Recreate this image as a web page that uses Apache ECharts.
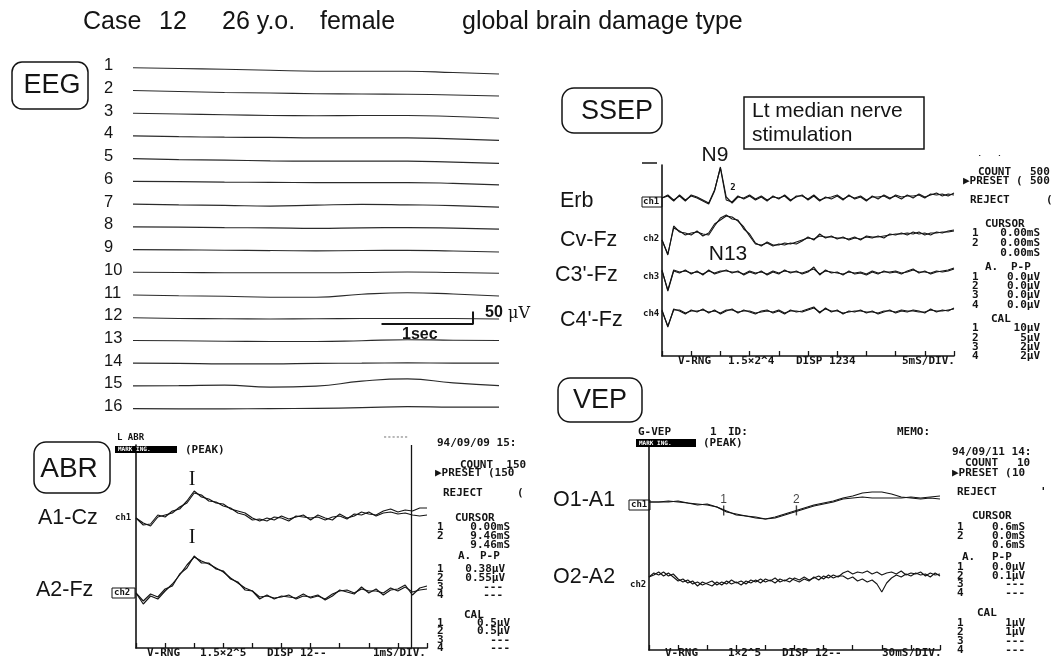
<!DOCTYPE html>
<html><head><meta charset="utf-8">
<script src="https://cdn.jsdelivr.net/npm/echarts@6/dist/echarts.min.js"></script>
<style>html,body{margin:0;padding:0;background:#fff}#c{width:1052px;height:656px}</style>
</head><body><div id="c"></div>
<script>
// ===================== DATA =====================
// EEG: 16 channels, amplitude (uV) relative to each channel's start, sampled every 0.5 s
const eegChannels = ['1','2','3','4','5','6','7','8','9','10','11','12','13','14','15','16'];
const eegTimes = [0,0.5,1,1.5,2,2.5,3,3.5,4];
const eegTraces = [
  [0,-3,-6,-10,-14,-14,-14,-19,-25],
  [0,-4,-8,-10,-13,-14,-15,-18,-22],
  [0,-3,-6,-9,-10,-9,-9,-13,-20],
  [0,-3,-5,-6,-8,-8,-8,-12,-18],
  [0,-4,-6,-9,-10,-10,-10,-14,-19],
  [0,-1,-3,-4,-5,-5,-5,-8,-14],
  [0,-3,-5,-8,-4,-1,-3,-6,-12],
  [0,-1,-3,-4,-6,-4,-3,-5,-9],
  [0,-1,-3,-4,-5,-4,-3,-6,-10],
  [0,-1,-2,-2,-2,-1,1,-1,-4],
  [0,-3,-5,-9,-9,3,9,4,-4],
  [0,-3,-4,-5,-4,-3,-3,-3,-5],
  [0,-1,-3,-4,-4,-1,3,1,0],
  [0,-1,-3,-3,-1,0,1,0,0],
  [0,1,3,-5,-1,19,28,12,1],
  [0,-1,-1,0,1,4,8,6,6]
];
const eegScaleBar = [1, 50]; // 1 sec, 50 uV

// ABR (ms, amplitude a.u.), two averaged runs per channel
const abrChannels = ['A1-Cz','A2-Fz'];
const abrTime = [0,0.25,0.5,0.75,1,1.25,1.5,1.75,2,2.25,2.5,2.75,3,3.25,3.5,3.75,4,4.25,4.5,4.75,5,5.25,5.5,5.75,6,6.25,6.5,6.75,7,7.25,7.5,7.75,8,8.25,8.5,8.75,9,9.25,9.5,9.75,10];
const abrA1CzRun1 = [0,-7,-6,3,1,7,9,17,27,21,19,15,14,9,7,5,0,-3,0,-2,2,-1,1,3,-2,3,0,-2,4,0,2,6,4,3,7,9,6,8,7,10,10];
const abrA1CzRun2 = [0,-5,-8,1,3,5,11,15,25,23,17,16,12,10,5,3,-2,-1,-3,1,0,-3,2,1,0,1,-2,1,2,-1,4,3,6,2,5,6,4,5,3,2,3];
const abrA2FzRun1 = [0,-11,-3,-6,2,9,18,28,36,32,29,25,21,15,10,5,2,-4,-3,-5,-4,-2,-6,-3,-4,-2,-7,-3,3,1,-1,6,0,4,-2,3,4,8,-2,5,7];
const abrA2FzRun2 = [0,-8,-1,-4,4,7,19,25,37,30,30,24,22,14,11,3,2,-6,-2,-6,-3,-4,-5,-1,-5,-3,-6,-1,2,3,0,4,2,2,0,5,2,6,1,3,4];
const abrCursorMs = 9.46;
const abrPeakLabels = ['I','I'];

// SSEP (ms, amplitude a.u.)
const ssepChannels = ['Erb','Cv-Fz',"C3'-Fz","C4'-Fz"];
const ssepTime = [0,1,2,3,4,5,6,7,8,9,10,11,12,13,14,15,16,17,18,19,20,21,22,23,24,25,26,27,28,29,30,31,32,33,34,35,36,37,38,39,40,41,42,43,44,45,46,47,48,49,50];
const ssepErbRun1 = [0,3,-2,2,-3,3,1,-2,-5,8,30,-2,-4,2,-1,2,-2,1,-3,2,-1,3,-2,1,3,-2,2,-3,1,-1,2,-2,3,-1,1,-3,2,-1,3,0,2,-1,3,0,4,1,3,5,2,4,3];
const ssepErbRun2 = [0,2,-3,3,-2,2,0,-3,-6,7,31,1,-5,1,0,3,-1,2,-2,1,0,2,-3,2,2,-1,3,-2,0,1,3,-1,2,0,2,-2,1,1,2,-1,3,1,2,2,3,0,4,3,4,2,5];
const ssepCvRun1 = [0,-15,14,8,7,5,9,4,7,16,20,24,23,19,13,4,-4,-5,-3,-6,-4,-5,-3,-4,-1,3,0,6,2,4,1,3,0,2,1,3,2,4,2,6,5,7,5,8,6,7,5,8,7,9,10];
const ssepCvRun2 = [0,-14,12,9,5,7,8,6,5,14,22,25,21,20,11,6,-3,-6,-2,-5,-5,-3,-4,-2,0,2,1,4,3,3,2,2,1,3,0,4,3,3,4,5,6,6,7,6,8,5,7,7,8,8,9];
const ssepC3Run1 = [3,-18,2,0,3,-1,2,-2,3,-1,1,3,0,2,-2,1,-1,2,-2,1,-1,3,0,2,-1,1,6,-2,3,0,1,-2,2,-1,0,-2,1,-1,2,0,1,-1,2,4,0,2,-1,1,2,3,5];
const ssepC3Run2 = [2,-17,3,1,2,0,1,-1,2,0,2,2,1,1,-1,2,0,1,-1,2,0,2,1,1,0,2,4,-1,2,1,0,-1,1,0,1,-1,2,0,1,1,2,0,1,3,1,1,0,2,1,2,4];
const ssepC4Run1 = [2,-15,3,1,-2,2,0,3,-1,2,-2,1,3,-1,2,0,-2,1,2,-1,1,-2,2,0,1,3,5,-1,4,0,2,-2,1,0,2,-1,1,-2,0,2,-1,1,0,2,1,-1,3,0,2,1,4];
const ssepC4Run2 = [1,-14,2,2,-1,1,1,2,0,1,-1,2,2,0,1,1,-1,0,1,0,2,-1,1,1,0,2,4,0,3,1,1,-1,0,1,1,0,0,-1,1,1,0,2,1,1,0,0,2,1,1,2,3];

// VEP (ms, amplitude a.u.)
const vepChannels = ['O1-A1','O2-A2'];
const vepTimeO1 = [0,10,20,30,40,50,60,70,80,90,100,110,120,130,140,150,160,170,180,190,200,210,220,230,240,250,260,270,280,290,300];
const vepO1Run1 = [0,0,1,0,-1,-3,-2,-5,-10,-12,-14,-16,-17,-15,-12,-9,-6,-3,-1,1,4,6,9,10,10,8,5,4,3,4,3];
const vepO1Run2 = [0,0,0,1,-1,-2,-3,-5,-9,-13,-14,-15,-17,-16,-13,-10,-7,-4,-2,0,3,4,5,4,4,4,4,5,4,5,6];
const vepTimeO2 = [0,5,10,15,20,25,30,35,40,45,50,55,60,65,70,75,80,85,90,95,100,105,110,115,120,125,130,135,140,145,150,155,160,165,170,175,180,185,190,195,200,205,210,215,220,225,230,235,240,245,250,255,260,265,270,275,280,285,290,295,300];
const vepO2Run1 = [0,4,2,5,1,3,-2,-5,-3,-7,-5,-8,-6,-4,-8,-5,-7,-3,-6,-4,-7,-3,-5,-2,-5,-3,-6,-2,-4,-1,-3,-5,-2,-4,0,-3,1,-1,2,0,4,6,3,5,4,6,3,5,2,4,5,3,6,2,4,3,5,1,4,2,3];
const vepO2Run2 = [0,2,5,1,4,0,-4,-2,-6,-4,-9,-5,-7,-9,-5,-8,-4,-7,-5,-8,-4,-6,-3,-6,-2,-4,-1,-5,-3,-5,-1,-3,0,-3,-1,1,-2,2,-1,1,1,-2,0,-4,-2,-5,-3,-7,-15,-6,-1,2,0,3,1,4,2,3,0,4,1];
const vepMarkLabels = ['1','2'];
const vepMarkTimes = [77, 152];

// ===================== LAYOUT =====================
const LAY = {
  eeg:  {left:133, top:40,  width:366, height:390, xmax:4,   ymax:1560, base0:1449, step:90.9},
  abr:  {left:136, top:445, width:291, height:203, xmax:10,  interval:1,  offsets:[130,55], cal:[[156,118],[86,41]], calX:10.1},
  ssep: {left:662, top:165, width:292, height:191, xmax:50,  interval:5,  offsets:[158,116,83,44], cal:[[181,24]], calX:50.7},
  vep:  {left:649, top:440, width:291, height:210, xmax:300, interval:30, offsets:[148,73], cal:[[160,128],[80,50]], calX:304}
};
const INK = '#141414';
const MONO = 'bold 11px "DejaVu Sans Mono", monospace';
const MONOS = 'bold 9px "DejaVu Sans Mono", monospace';
const sans = s => s + 'px "Liberation Sans", Arial, sans-serif';

function grid(g){ return {left:g.left, top:g.top, width:g.width, height:g.height, containLabel:false, outerBoundsMode:'none'}; }
function xAx(gi, g, show){
  return {gridIndex:gi, type:'value', min:0, max:g.xmax, interval:g.interval||1, show:show,
    axisLine:{show:true, onZero:false, lineStyle:{color:INK, width:1.6}},
    axisTick:{show:true, inside:true, length:5, lineStyle:{color:INK, width:1.3}},
    axisLabel:{show:false}, splitLine:{show:false}};
}
function yAx(gi, max, show){
  return {gridIndex:gi, type:'value', min:0, max:max, show:show,
    axisLine:{show:true, onZero:false, lineStyle:{color:INK, width:1.6}},
    axisTick:{show:false}, axisLabel:{show:false}, splitLine:{show:false}};
}
function trace(gi, times, vals, off, extra){
  return Object.assign({type:'line', xAxisIndex:gi, yAxisIndex:gi, symbol:'none', silent:true, animation:false,
    data: times.map((t,i)=>[t, off + vals[i]]), lineStyle:{color:INK, width:1.2}, z:3}, extra||{});
}
function calBar(gi, x, pair){
  return {type:'line', xAxisIndex:gi, yAxisIndex:gi, symbol:'none', silent:true, animation:false, clip:false,
    data:[[x,pair[0]],[x,pair[1]]], lineStyle:{color:INK, width:1.5}};
}

const series = [];
// EEG
eegTraces.forEach((tr,i)=>{
  series.push(trace(0, eegTimes, tr, LAY.eeg.base0 - i*LAY.eeg.step, {smooth:0.5, lineStyle:{color:'#2b2b2b', width:1.15}}));
});
// EEG scale bar (1 sec x 50 uV)
(function(){
  const endT = 3.716, base = 424;
  series.push({type:'line', xAxisIndex:0, yAxisIndex:0, symbol:'none', silent:true, animation:false, clip:false,
    data:[[endT-eegScaleBar[0], base],[endT, base],[endT, base+eegScaleBar[1]]],
    lineStyle:{color:INK, width:2}});
})();
// ABR
[[abrA1CzRun1,abrA1CzRun2],[abrA2FzRun1,abrA2FzRun2]].forEach((runs,c)=>{
  runs.forEach((r,k)=>series.push(trace(1, abrTime, r, LAY.abr.offsets[c], {lineStyle:{color:INK,width:1.15}})));
});
series[series.length-1].markLine = {symbol:'none', silent:true, animation:false, label:{show:false},
  lineStyle:{color:INK, width:1.3, type:'solid'}, data:[{xAxis:abrCursorMs}]};
LAY.abr.cal.forEach(p=>series.push(calBar(1, LAY.abr.calX, p)));
// SSEP
[[ssepErbRun1,ssepErbRun2],[ssepCvRun1,ssepCvRun2],[ssepC3Run1,ssepC3Run2],[ssepC4Run1,ssepC4Run2]].forEach((runs,c)=>{
  runs.forEach(r=>series.push(trace(2, ssepTime, r, LAY.ssep.offsets[c], {lineStyle:{color:INK,width:1.1}})));
});
LAY.ssep.cal.forEach(p=>series.push(calBar(2, LAY.ssep.calX, p)));
// VEP
series.push(trace(3, vepTimeO1, vepO1Run1, LAY.vep.offsets[0]));
series.push(trace(3, vepTimeO1, vepO1Run2, LAY.vep.offsets[0]));
series.push(trace(3, vepTimeO2, vepO2Run1, LAY.vep.offsets[1], {lineStyle:{color:INK,width:1.1}}));
series.push(trace(3, vepTimeO2, vepO2Run2, LAY.vep.offsets[1], {lineStyle:{color:INK,width:1.1}}));
LAY.vep.cal.forEach(p=>series.push(calBar(3, LAY.vep.calX, p)));
// VEP peak marks
function interp(times, vals, t){
  for (let i=0;i<times.length-1;i++){ if (t>=times[i] && t<=times[i+1]){ const f=(t-times[i])/(times[i+1]-times[i]); return vals[i]+f*(vals[i+1]-vals[i]); } }
  return vals[vals.length-1];
}
series.push({type:'scatter', xAxisIndex:3, yAxisIndex:3, silent:true, animation:false,
  symbol:'rect', symbolSize:[1.4,10], itemStyle:{color:INK},
  data: vepMarkTimes.map((t,i)=>({value:[t, LAY.vep.offsets[0]+interp(vepTimeO1, vepO1Run1, t)], name:vepMarkLabels[i]})),
  label:{show:true, position:'top', distance:0, formatter:p=>p.name, color:INK, font:'bold 10px "DejaVu Sans Mono", monospace'}});

const option = {
  backgroundColor:'#ffffff',
  animation:false,
  grid:[grid(LAY.eeg), grid(LAY.abr), grid(LAY.ssep), grid(LAY.vep)],
  xAxis:[xAx(0,LAY.eeg,false), xAx(1,LAY.abr,true), xAx(2,LAY.ssep,true), xAx(3,LAY.vep,true)],
  yAxis:[yAx(0,LAY.eeg.ymax,false), yAx(1,LAY.abr.height,true), yAx(2,LAY.ssep.height,true), yAx(3,LAY.vep.height,true)],
  series: series
};

const chart = echarts.init(document.getElementById('c'), null, {renderer:'canvas'});
chart.setOption(option);

// ===================== TEXT / DECOR =====================
function T(x,y,text,font,o){
  o=o||{};
  return {type:'text', x:x, y:y, z:o.z||20, silent:true,
    style:{text:text, fill:o.c||INK, font:font, textAlign:o.a||'left', align:o.a||'left',
      textVerticalAlign:'middle', verticalAlign:'middle'}};
}
function R(x,y,w,h,r,lw,fill,z){
  return {type:'rect', z:z||15, silent:true, shape:{x:x,y:y,width:w,height:h,r:r||0},
    style:{fill:fill||'none', stroke: fill?null:INK, lineWidth:lw||1.5}};
}
function Ln(x1,y1,x2,y2,w){ return {type:'line', z:15, silent:true, shape:{x1:x1,y1:y1,x2:x2,y2:y2}, style:{stroke:INK, lineWidth:w||1.2}}; }

const G = [];
// title
G.push(T(83,22,'Case',sans(25)), T(159,22,'12',sans(25)), T(222,22,'26 y.o.',sans(25)),
       T(320,22,'female',sans(25)), T(462,22,'global brain damage type',sans(25)));
// panel boxes
G.push(R(12,62,76,47,10), T(52,86,'EEG',sans(27),{a:'center'}));
G.push(R(34,442,76,51,12), T(69,469,'ABR',sans(28),{a:'center'}));
G.push(R(562,88,100,45,12), T(617,112,'SSEP',sans(27),{a:'center'}));
G.push(R(558,378,84,44,12), T(600,401,'VEP',sans(27),{a:'center'}));
G.push(R(744,97,180,52,0,1.5), T(752,111,'Lt median nerve',sans(21)), T(752,135,'stimulation',sans(21)));

// EEG channel numbers (placed from the EEG scale)
eegChannels.forEach((c,i)=>{
  const p = chart.convertToPixel({gridIndex:0}, [0, LAY.eeg.base0 - i*LAY.eeg.step]);
  G.push(T(104, p[1]-2, c, sans(16.5)));
});
G.push(T(485,313,'50',  'bold 16px "Liberation Sans", Arial'), T(508,314,'μV','16px "DejaVu Serif", serif'));
G.push(T(402,335,'1sec','bold 16px "Liberation Sans", Arial'));

// ABR
G.push(T(117,438,'L ABR',MONOS), R(115,446,62,7,0,0,'#000'), T(118,449.5,'MARK ING.','bold 6px "DejaVu Sans Mono"',{c:'#fff',z:25}),
       T(185,450,'(PEAK)',MONO), T(383,437,'------','bold 7px "DejaVu Sans Mono"',{c:'#777'}));
G.push(T(38,518,abrChannels[0],sans(21.5)), T(36,590,abrChannels[1],sans(21.5)));
G.push(T(115,518,'ch1',MONOS), R(112,588,23,10,0,1), T(114,593,'ch2',MONOS));
G.push(T(192,480,abrPeakLabels[0],'20px "Liberation Serif", serif',{a:'center'}),
       T(192,538,abrPeakLabels[1],'20px "Liberation Serif", serif',{a:'center'}));
G.push(T(147,653,'V-RNG',MONO), T(200,653,'1.5×2^5',MONO), T(267,653,'DISP 12--',MONO), T(373,653,'1mS/DIV.',MONO));
[
 ['94/09/09 15:',437,443],['COUNT  150',460,465],['▶PRESET (150',435,473],['REJECT',443,493],['(',517,493],
 ['CURSOR',455,518],['1',437,527],['0.00mS',510,527,'right'],['2',437,536],['9.46mS',510,536,'right'],['9.46mS',510,545,'right'],
 ['A.',458,556],['P-P',480,556],['1',437,569],['0.38μV',505,569,'right'],['2',437,578],['0.55μV',505,578,'right'],
 ['3',437,587],['---',503,587,'right'],['4',437,595],['---',503,595,'right'],
 ['CAL',464,615],['1',437,623],['0.5μV',510,623,'right'],['2',437,631],['0.5μV',510,631,'right'],
 ['3',437,640],['---',510,640,'right'],['4',437,648],['---',510,648,'right']
].forEach(a=>G.push(T(a[1],a[2],a[0],MONO,{a:a[3]||'left'})));

// SSEP
ssepChannels.forEach((c,i)=>G.push(T([560,560,555,560][i],[201,240,275,320][i],c,sans(21.5))));
G.push(R(642,197,20,10,0,1), T(643,202,'ch1',MONOS), T(643,239,'ch2',MONOS), T(643,277,'ch3',MONOS), T(643,314,'ch4',MONOS));
G.push(Ln(642,163,657,163,1.5));
G.push(T(715,155,'N9',sans(21),{a:'center'}), T(728,254,'N13',sans(21),{a:'center'}), T(733,188,'2',MONOS,{a:'center'}));
G.push(T(678,361,'V-RNG',MONO), T(728,361,'1.5×2^4',MONO), T(796,361,'DISP 1234',MONO), T(902,361,'5mS/DIV.',MONO));
// printer header cut off by the scan: only the lower edge of the glyphs shows
G.push(T(965,152,'94/09/11 14:',MONO), R(955,138,97,17,0,0,'#fff',30));
[
 ['COUNT',978,172],['500',1030,172],['▶PRESET (',963,181],['500',1030,181],['REJECT',970,200],['(',1046,200],
 ['CURSOR',985,224],['1',972,233],['0.00mS',1040,233,'right'],['2',972,243],['0.00mS',1040,243,'right'],['0.00mS',1040,253,'right'],
 ['A.',985,267],['P-P',1011,267],
 ['1',972,277],['0.0μV',1040,277,'right'],['2',972,286],['0.0μV',1040,286,'right'],
 ['3',972,295],['0.0μV',1040,295,'right'],['4',972,305],['0.0μV',1040,305,'right'],
 ['CAL',991,319],['1',972,328],['10μV',1040,328,'right'],['2',972,338],['5μV',1040,338,'right'],
 ['3',972,347],['2μV',1040,347,'right'],['4',972,356],['2μV',1040,356,'right']
].forEach(a=>G.push(T(a[1],a[2],a[0],MONO,{a:a[3]||'left'})));

// VEP
G.push(T(553,500,vepChannels[0],sans(21.5)), T(553,577,vepChannels[1],sans(21.5)));
G.push(R(629,500,21,10,0,1), T(631,505,'ch1',MONOS), T(630,585,'ch2',MONOS));
G.push(T(638,432,'G-VEP',MONO), T(710,432,'1',MONO), T(728,432,'ID:',MONO), T(897,432,'MEMO:',MONO),
       R(636,439,60,8,0,0,'#000'), T(639,443,'MARK ING.','bold 6px "DejaVu Sans Mono"',{c:'#fff',z:25}), T(703,443,'(PEAK)',MONO));
G.push(T(665,653,'V-RNG',MONO), T(728,653,'1×2^5',MONO), T(782,653,'DISP 12--',MONO), T(882,653,'30mS/DIV.',MONO));
[
 ['94/09/11 14:',952,452],['COUNT',965,463],['10',1017,463],['▶PRESET (',952,473],['10',1012,473],['REJECT',957,492],["'",1040,492],
 ['CURSOR',972,516],['1',957,527],['0.6mS',1025,527,'right'],['2',957,536],['0.0mS',1025,536,'right'],['0.6mS',1025,545,'right'],
 ['A.',962,557],['P-P',992,557],['1',957,567],['0.0μV',1025,567,'right'],['2',957,576],['0.1μV',1025,576,'right'],
 ['3',957,584],['---',1025,584,'right'],['4',957,593],['---',1025,593,'right'],
 ['CAL',977,613],['1',957,623],['1μV',1025,623,'right'],['2',957,632],['1μV',1025,632,'right'],
 ['3',957,641],['---',1025,641,'right'],['4',957,650],['---',1025,650,'right']
].forEach(a=>G.push(T(a[1],a[2],a[0],MONO,{a:a[3]||'left'})));

chart.setOption({graphic: G});
</script>
</body></html>
